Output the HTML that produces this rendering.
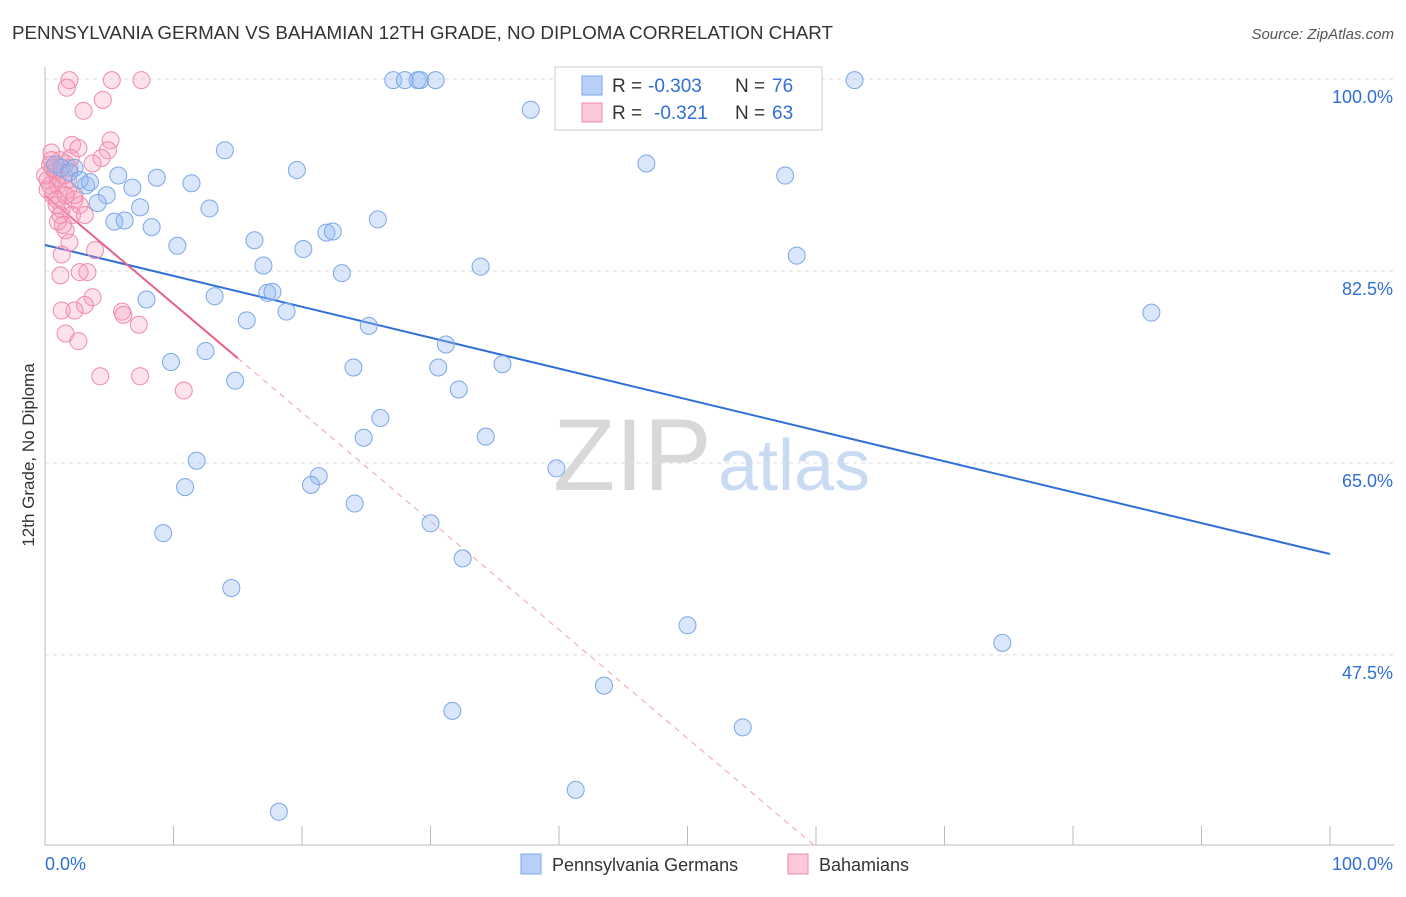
<!DOCTYPE html>
<html><head><meta charset="utf-8"><style>
body{margin:0;background:#fff;font-family:"Liberation Sans",sans-serif;}
svg text{font-family:"Liberation Sans",sans-serif;}
</style></head><body>
<svg id="chart" width="1406" height="892" xmlns="http://www.w3.org/2000/svg">
<text x="12" y="39" font-size="18.8" fill="#333">PENNSYLVANIA GERMAN VS BAHAMIAN 12TH GRADE, NO DIPLOMA CORRELATION CHART</text>
<text x="1394" y="39" font-size="15" fill="#555" text-anchor="end" font-style="italic">Source: ZipAtlas.com</text>
<text x="553" y="490" font-size="102" fill="#d8d8d8" font-family="Liberation Serif">ZIP</text>
<text x="718" y="490" font-size="72" fill="#c9dbf3">atlas</text>
<g id="grid"></g>
<g id="axes"></g>
<g id="lines"></g>
<g id="pts"></g>
<text transform="translate(34,455) rotate(-90)" font-size="17" fill="#333" text-anchor="middle">12th Grade, No Diploma</text>
<g>
<rect x="555" y="67" width="267" height="63" fill="#fff" stroke="#ccc"/>
<rect x="582" y="76" width="20" height="19" fill="#b8d0f5" stroke="#7aa7e8"/>
<rect x="582" y="103" width="20" height="19" fill="#fbc9d9" stroke="#f08aab"/>
<text font-size="19" fill="#333"><tspan x="612" y="92">R =</tspan><tspan x="648" y="92" fill="#2f6fd6">-0.303</tspan><tspan x="735" y="92">N =</tspan><tspan x="772" y="92" fill="#2f6fd6">76</tspan></text>
<text font-size="19" fill="#333"><tspan x="612" y="119">R =</tspan><tspan x="654" y="119" fill="#2f6fd6">-0.321</tspan><tspan x="735" y="119">N =</tspan><tspan x="772" y="119" fill="#2f6fd6">63</tspan></text>
</g>
<g>
<rect x="521" y="854" width="20" height="20" fill="#b8d0f5" stroke="#7aa7e8"/>
<text x="552" y="871" font-size="18" fill="#333">Pennsylvania Germans</text>
<rect x="788" y="854" width="20" height="20" fill="#fbc9d9" stroke="#f08aab"/>
<text x="819" y="871" font-size="18" fill="#333">Bahamians</text>
</g>
</svg>
<script>
const blueX=[27.1,28.0,29.0,29.2,30.4,63.0,37.8,14.0,46.8,19.6,57.6,1.3,2.3,5.7,8.7,11.4,3.2,6.8,4.8,4.1,7.4,12.8,5.4,6.2,8.3,25.9,21.9,22.4,16.3,10.3,20.1,58.5,17.0,33.9,23.1,17.3,17.7,13.2,7.9,18.8,15.7,86.1,25.2,31.2,12.5,9.8,24.0,30.6,35.6,14.8,32.2,26.1,24.8,34.3,11.8,39.8,21.3,10.9,20.7,24.1,30.0,9.2,32.5,14.5,50.0,74.5,43.5,31.7,54.3,41.3,18.2,0.8,1.9,3.5,2.7];
const blueY=[99.9,99.9,99.9,99.9,99.9,99.9,97.2,93.5,92.3,91.7,91.2,91.9,91.9,91.2,91.0,90.5,90.3,90.1,89.4,88.7,88.3,88.2,87.0,87.1,86.5,87.2,86.0,86.1,85.3,84.8,84.5,83.9,83.0,82.9,82.3,80.5,80.6,80.2,79.9,78.8,78.0,78.7,77.5,75.8,75.2,74.2,73.7,73.7,74.0,72.5,71.7,69.1,67.3,67.4,65.2,64.5,63.8,62.8,63.0,61.3,59.5,58.6,56.3,53.6,50.2,48.6,44.7,42.4,40.9,35.2,33.2,92.2,91.5,90.6,90.8];
const pinkX=[1.9,5.2,7.5,1.7,4.5,3.0,5.1,2.1,4.9,0.5,2.6,1.2,4.4,3.7,0.4,1.6,0.8,0.2,1.0,1.8,0.6,2.3,2.7,1.3,2.1,3.1,1.0,1.6,1.9,3.9,1.3,3.3,1.2,2.7,3.7,3.1,1.3,2.3,6.0,6.1,7.3,1.6,2.6,4.3,7.4,10.8,0.8,0.4,1.0,1.5,1.9,0.2,0.9,1.2,1.4,0,0.5,1.8,2.3,0.9,1.6,0.6,2.0];
const pinkY=[99.9,99.9,99.9,99.2,98.1,97.1,94.4,94.0,93.5,93.3,93.7,92.6,92.8,92.3,92.2,92.3,91.5,90.8,90.3,89.9,89.4,89.0,88.5,88.1,87.6,87.6,87.0,86.2,85.1,84.4,84.0,82.4,82.1,82.4,80.1,79.4,78.9,78.9,78.8,78.5,77.6,76.8,76.1,72.9,72.9,71.6,91.7,90.3,91.0,91.2,91.9,89.9,89.0,87.6,86.7,91.2,92.6,90.8,89.4,88.5,89.4,91.9,92.8];
const yTicks=[100,82.5,65,47.5];
const yTickLabels=["100.0%","82.5%","65.0%","47.5%"];
const blueTrend=[84.87,56.7];
const pinkTrend=[89.4,-0.99];
const NS="http://www.w3.org/2000/svg";
const X0=45,X1=1330,YTOP=79,YBOT=845;
const sx=v=>X0+v*(X1-X0)/100;
const sy=v=>YTOP+(100-v)*10.97;
function mk(tag,attrs,parent){const e=document.createElementNS(NS,tag);for(const k in attrs)e.setAttribute(k,attrs[k]);parent.appendChild(e);return e;}
const grid=document.getElementById('grid'),axes=document.getElementById('axes');
yTicks.forEach((t,i)=>{
 const l=mk('line',{x1:X0,x2:1394,y1:sy(t),y2:sy(t),stroke:'#ddd','stroke-dasharray':'4,4'},grid);
 
 
 const tx=mk('text',{x:1393,y:sy(t)+24,'font-size':18,fill:'#2f6fd6','text-anchor':'end'},axes);
 tx.textContent=yTickLabels[i];
 
 
});
mk('line',{x1:X0,x2:X0,y1:67,y2:YBOT,stroke:'#bbb'},axes);
mk('line',{x1:X0,x2:1394,y1:YBOT,y2:YBOT,stroke:'#bbb'},axes);
for(let i=0;i<=10;i++){const t=mk('line',{x1:sx(i*10),x2:sx(i*10),y1:826,y2:YBOT,stroke:'#bbb'},axes);
 
 }
const xl0=mk('text',{x:45,y:870,'font-size':18,fill:'#2f6fd6'},axes);xl0.textContent='0.0%';


const xl1=mk('text',{x:1393,y:870,'font-size':18,fill:'#2f6fd6','text-anchor':'end'},axes);xl1.textContent='100.0%';


const pts=document.getElementById('pts');
pinkX.forEach((x,i)=>{const c=mk('circle',{cx:sx(x),cy:sy(pinkY[i]),r:8.5,fill:'rgba(245,160,190,0.3)',stroke:'#f08aab','stroke-width':1},pts);
 
 });
blueX.forEach((x,i)=>{const c=mk('circle',{cx:sx(x),cy:sy(blueY[i]),r:8.5,fill:'rgba(150,185,240,0.35)',stroke:'#7aa7e8','stroke-width':1},pts);
 
 });
const lines=document.getElementById('lines');
const bl=mk('line',{x1:sx(0),y1:sy(blueTrend[0]),x2:sx(100),y2:sy(blueTrend[1]),stroke:'#2f6fd6','stroke-width':2},lines);


const pf=x=>pinkTrend[0]+pinkTrend[1]*x;
const yMin=100-(YBOT-YTOP)/10.97;
const xEnd=(yMin-pinkTrend[0])/pinkTrend[1];
const ps=mk('line',{x1:sx(0),y1:sy(pf(0)),x2:sx(15),y2:sy(pf(15)),stroke:'#e8608e','stroke-width':2},lines);


const pd=mk('line',{x1:sx(15),y1:sy(pf(15)),x2:sx(xEnd),y2:sy(pf(xEnd)),stroke:'#f0a0bb','stroke-width':1,'stroke-dasharray':'6,5'},lines);


</script>
</body></html>
